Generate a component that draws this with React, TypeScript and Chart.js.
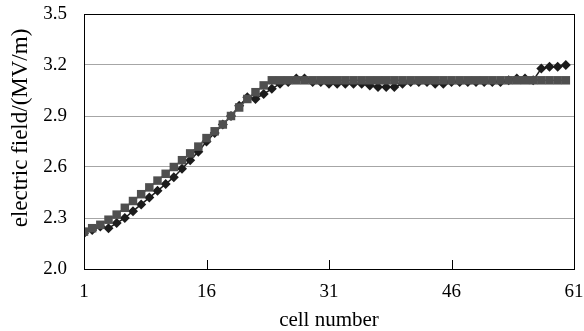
import { useEffect, useRef } from 'react';
import { Chart, registerables } from 'chart.js';

Chart.register(...registerables);

const cells = [
  1, 2, 3, 4, 5, 6, 7, 8, 9, 10, 11, 12, 13, 14, 15, 16, 17, 18, 19, 20,
  21, 22, 23, 24, 25, 26, 27, 28, 29, 30, 31, 32, 33, 34, 35, 36, 37, 38, 39, 40,
  41, 42, 43, 44, 45, 46, 47, 48, 49, 50, 51, 52, 53, 54, 55, 56, 57, 58, 59, 60,
];

const diamondSeries = [
  2.21, 2.23, 2.25, 2.24, 2.27, 2.30, 2.34, 2.38, 2.42, 2.46,
  2.50, 2.54, 2.59, 2.64, 2.69, 2.75, 2.80, 2.85, 2.90, 2.96,
  3.01, 3.00, 3.03, 3.06, 3.09, 3.10, 3.12, 3.12, 3.10, 3.10,
  3.09, 3.09, 3.09, 3.09, 3.09, 3.08, 3.07, 3.07, 3.07, 3.09,
  3.10, 3.10, 3.10, 3.09, 3.09, 3.10, 3.10, 3.10, 3.10, 3.10,
  3.10, 3.10, 3.11, 3.12, 3.12, 3.11, 3.18, 3.19, 3.19, 3.20,
];

const squareSeries = [
  2.22, 2.24, 2.26, 2.29, 2.32, 2.36, 2.40, 2.44, 2.48, 2.52,
  2.56, 2.60, 2.64, 2.68, 2.72, 2.77, 2.81, 2.85, 2.90, 2.95,
  3.00, 3.04, 3.08, 3.11, 3.11, 3.11, 3.11, 3.11, 3.11, 3.11,
  3.11, 3.11, 3.11, 3.11, 3.11, 3.11, 3.11, 3.11, 3.11, 3.11,
  3.11, 3.11, 3.11, 3.11, 3.11, 3.11, 3.11, 3.11, 3.11, 3.11,
  3.11, 3.11, 3.11, 3.11, 3.11, 3.11, 3.11, 3.11, 3.11, 3.11,
];

const xTicks = [1, 16, 31, 46, 61];
const yTicks = [2.0, 2.3, 2.6, 2.9, 3.2, 3.5];
const yTitle = 'electric field/(MV/m)';
const xTitle = 'cell number';

const FONT = '"Liberation Serif", "Times New Roman", serif';

const framePlugin = {
  id: 'frame',
  afterDatasetsDraw(chart: any) {
    const { ctx, chartArea } = chart;
    const xs = chart.scales.x;
    ctx.save();
    ctx.strokeStyle = '#000000';
    ctx.lineWidth = 1;
    ctx.strokeRect(
      Math.round(chartArea.left) + 0.5,
      Math.round(chartArea.top) + 0.5,
      Math.round(chartArea.right - chartArea.left),
      Math.round(chartArea.bottom - chartArea.top)
    );
    ctx.beginPath();
    xTicks.forEach((v) => {
      const px = Math.round(xs.getPixelForValue(v)) + 0.5;
      ctx.moveTo(px, chartArea.bottom);
      ctx.lineTo(px, chartArea.bottom - 9);
    });
    ctx.stroke();
    // rotated y-axis title
    ctx.translate(21, 128);
    ctx.rotate(-Math.PI / 2);
    ctx.fillStyle = '#000';
    ctx.font = `23px ${FONT}`;
    ctx.textAlign = 'center';
    ctx.textBaseline = 'middle';
    ctx.fillText(yTitle, 0, 0);
    ctx.restore();
  },
};

export default function App() {
  const canvasRef = useRef<HTMLCanvasElement | null>(null);

  useEffect(() => {
    const canvas = canvasRef.current;
    if (!canvas) return;
    const chart = new Chart(canvas, {
      type: 'line',
      data: {
        datasets: [
          {
            label: 'square',
            data: cells.map((c, i) => ({ x: c, y: squareSeries[i] })),
            borderColor: '#5a5a5a',
            backgroundColor: '#4f4f4f',
            borderWidth: 1.5,
            pointStyle: 'rect',
            pointRadius: 6,
            pointBorderWidth: 0,
            pointBackgroundColor: '#4f4f4f',
            tension: 0,
            order: 0,
          },
          {
            label: 'diamond',
            data: cells.map((c, i) => ({ x: c, y: diamondSeries[i] })),
            borderColor: '#1c1c1c',
            backgroundColor: '#1c1c1c',
            borderWidth: 1.5,
            pointStyle: 'rectRot',
            pointRadius: 5,
            pointBorderWidth: 0,
            pointBackgroundColor: '#1c1c1c',
            tension: 0,
            order: 1,
          },
        ],
      },
      options: {
        animation: false,
        responsive: false,
        maintainAspectRatio: false,
        events: [],
        layout: { padding: { left: 0, right: 10, top: 14, bottom: 0 } },
        plugins: {
          legend: { display: false },
          tooltip: { enabled: false },
        },
        scales: {
          x: {
            type: 'linear',
            min: 1,
            max: 61,
            afterBuildTicks: (s: any) => {
              s.ticks = xTicks.map((v) => ({ value: v }));
            },
            afterFit: (s: any) => {
              s.height = 62;
              s.paddingLeft = 0;
              s.paddingRight = 0;
            },
            grid: { display: false, drawTicks: false },
            border: { display: false },
            ticks: {
              color: '#000',
              font: { family: FONT, size: 19 },
              padding: 12,
              maxRotation: 0,
              autoSkip: false,
            },
            title: {
              display: true,
              text: xTitle,
              color: '#000',
              font: { family: FONT, size: 21 },
              padding: { top: 0, bottom: -2 },
            },
          },
          y: {
            min: 2.0,
            max: 3.5,
            afterBuildTicks: (s: any) => {
              s.ticks = yTicks.map((v) => ({ value: v }));
            },
            afterFit: (s: any) => {
              s.width = 84;
              s.paddingTop = 0;
              s.paddingBottom = 0;
            },
            grid: { color: '#a6a6a6', lineWidth: 1, drawTicks: false },
            border: { display: false },
            ticks: {
              color: '#000',
              font: { family: FONT, size: 19 },
              padding: 17,
              callback: (v: any) => Number(v).toFixed(1),
            },
            title: { display: false },
          },
        },
      },
      plugins: [framePlugin],
    });
    return () => chart.destroy();
  }, []);

  return (
    <div style={{ position: 'fixed', left: 0, top: 0, width: 584, height: 331, background: '#fff' }}>
      <canvas ref={canvasRef} width={584} height={331} style={{ width: 584, height: 331 }} />
    </div>
  );
}
